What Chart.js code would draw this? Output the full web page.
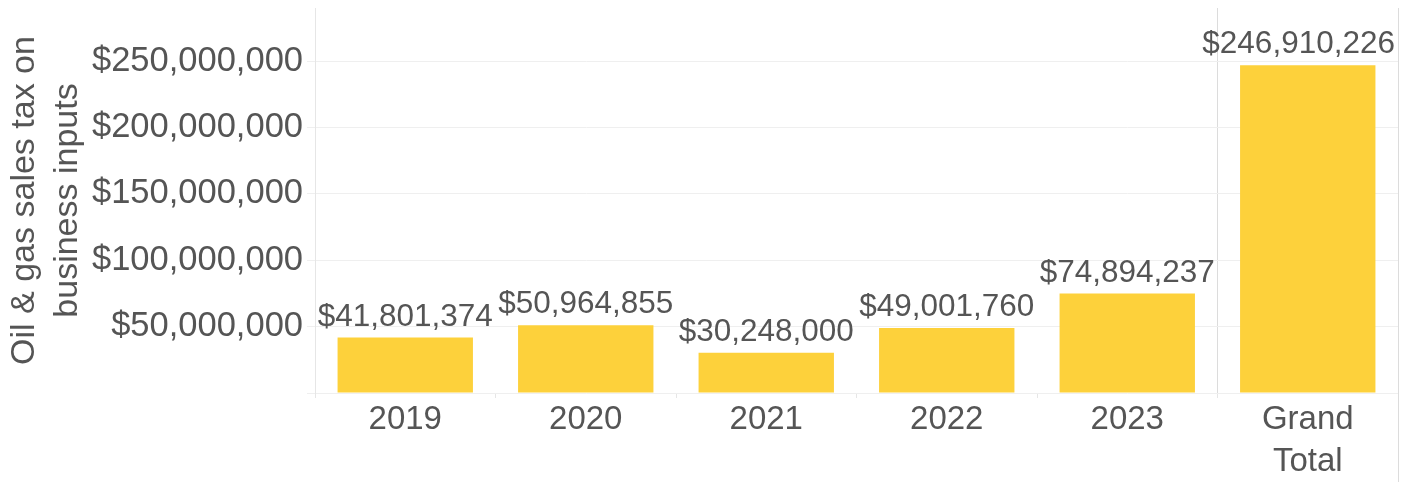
<!DOCTYPE html>
<html><head><meta charset="utf-8">
<script src="https://cdn.jsdelivr.net/npm/chart.js@4/dist/chart.umd.min.js"></script>
<style>html,body{margin:0;padding:0;background:#fff;}#wrap{width:1413px;height:482px;}</style>
</head><body><div id="wrap"><canvas id="c" width="1413" height="482"></canvas></div>
<script>
const categories = ['2019', '2020', '2021', '2022', '2023', ['Grand', 'Total']];
const values = [41801374, 50964855, 30248000, 49001760, 74894237, 246910226];
const yTickValues = [0, 50000000, 100000000, 150000000, 200000000, 250000000];
const yAxisTitle = ['Oil & gas sales tax on', 'business inputs'];
const yMax = 290000000;

const FONT = "'Liberation Sans', Arial, sans-serif";
const TEXT = '#555555';
const BAR = '#FDD13B';
const fmt = v => '$' + v.toLocaleString('en-US');

const dataLabels = {
  id: 'dataLabels',
  afterDatasetsDraw(chart) {
    const ctx = chart.ctx;
    const meta = chart.getDatasetMeta(0);
    const right = chart.chartArea.right;
    ctx.save();
    ctx.font = '31.5px ' + FONT;
    ctx.fillStyle = TEXT;
    ctx.textAlign = 'center';
    ctx.textBaseline = 'alphabetic';
    meta.data.forEach((bar, i) => {
      const t = fmt(values[i]);
      const w = ctx.measureText(t).width;
      const x = Math.min(bar.x, right - 3 - w / 2);
      ctx.fillText(t, x, bar.y - 12);
    });
    ctx.restore();
  }
};
const rightBorder = {
  id: 'rightBorder',
  afterDraw(chart) {
    const ctx = chart.ctx, a = chart.chartArea;
    ctx.save();
    ctx.strokeStyle = '#dcdcdc';
    ctx.lineWidth = 1;
    ctx.beginPath();
    const x = Math.round(a.right) + 0.5;
    ctx.moveTo(x, a.top);
    ctx.lineTo(x, chart.height);
    ctx.stroke();
    ctx.restore();
  }
};

new Chart(document.getElementById('c'), {
  type: 'bar',
  data: {
    labels: categories,
    datasets: [{ data: values, backgroundColor: BAR, categoryPercentage: 0.75, barPercentage: 1 }]
  },
  options: {
    responsive: false,
    devicePixelRatio: 1,
    animation: false,
    layout: { padding: { top: 8, right: 15, left: 0, bottom: 0 } },
    plugins: { legend: { display: false }, tooltip: { enabled: false } },
    scales: {
      x: {
        offset: true,
        afterFit(s) { s.height = 89; s.paddingLeft = 0; s.paddingRight = 0; },
        border: { display: false },
        grid: {
          offset: true,
          color: c => (c.index === 5 ? '#dcdcdc' : 'rgba(0,0,0,0)'),
          tickColor: '#e6e6e6',
          tickLength: 5,
          lineWidth: 1
        },
        ticks: { color: TEXT, padding: 0, font: { family: FONT, size: 33, lineHeight: 1.3 }, maxRotation: 0, autoSkip: false }
      },
      y: {
        min: 0,
        max: yMax,
        afterFit(s) { s.width = 315; s.paddingTop = 0; s.paddingBottom = 0; },
        afterBuildTicks(s) { s.ticks = yTickValues.map(v => ({ value: v })); },
        border: { display: true, color: '#e6e6e6', width: 1 },
        grid: { color: '#efefef', tickColor: '#efefef', tickLength: 8, lineWidth: 1 },
        ticks: {
          color: TEXT, padding: 4,
          font: { family: FONT, size: 34.5 },
          callback: v => (v === 0 ? '' : fmt(v))
        },
        title: {
          display: true, text: yAxisTitle, color: TEXT,
          font: { family: FONT, size: 34, lineHeight: 1.24 },
          padding: { top: 4, bottom: 0 }
        }
      }
    }
  },
  plugins: [dataLabels, rightBorder]
});
</script></body></html>
